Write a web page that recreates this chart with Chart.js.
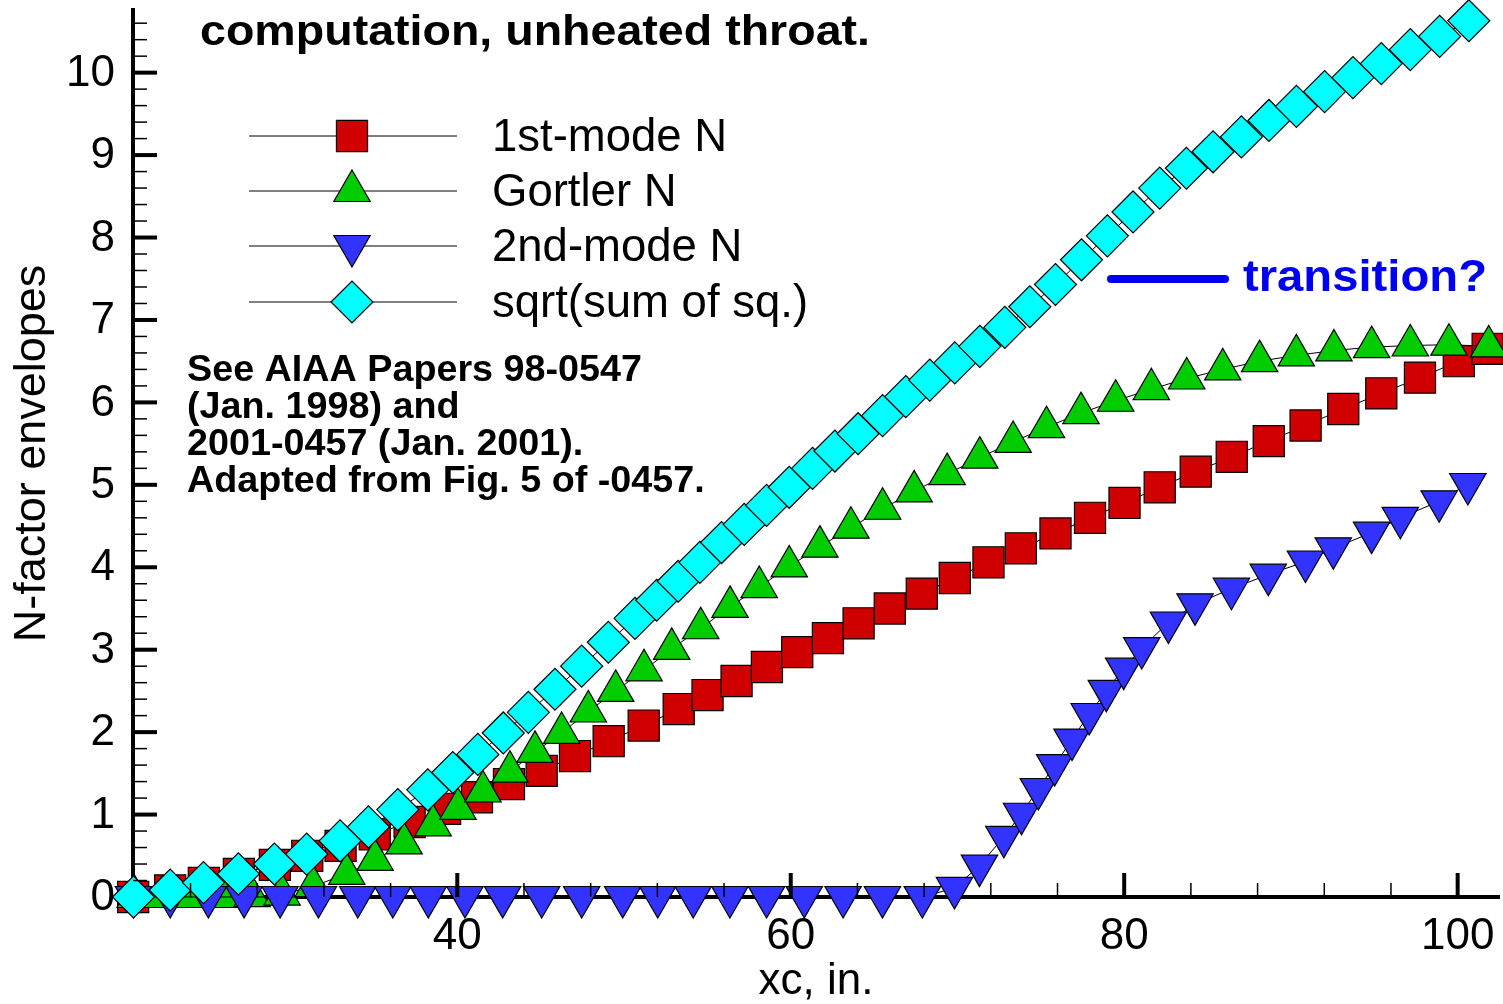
<!DOCTYPE html>
<html>
<head>
<meta charset="utf-8">
<title>N-factor envelopes</title>
<script src="https://cdn.jsdelivr.net/npm/chart.js@4.4.1/dist/chart.umd.min.js"></script>
<style>
  html, body { margin: 0; padding: 0; background: #fff; overflow: hidden; }
  #wrap { width: 1503px; height: 1004px; }
</style>
</head>
<body>
<div id="wrap"><canvas id="nfactorChart"></canvas></div>
<script>
const firstModeX = [20.56, 22.78, 24.80, 26.90, 29.06, 31.00, 33.00, 35.05, 37.14, 39.27,
    41.18, 43.10, 45.06, 47.06, 49.08, 51.18, 53.28, 55.01, 56.75, 58.57,
    60.39, 62.23, 64.07, 65.94, 67.86, 69.84, 71.86, 73.80, 75.88, 77.95,
    80.02, 82.13, 84.29, 86.45, 88.67, 90.88, 93.14, 95.42, 97.74, 100.07, 101.80];
const firstModeN = [0.00, 0.08, 0.17, 0.28, 0.39, 0.50, 0.62, 0.76, 0.91, 1.07,
    1.21, 1.37, 1.53, 1.71, 1.89, 2.08, 2.28, 2.45, 2.62, 2.79,
    2.97, 3.14, 3.32, 3.50, 3.68, 3.87, 4.06, 4.23, 4.41, 4.60,
    4.78, 4.97, 5.16, 5.34, 5.53, 5.72, 5.92, 6.11, 6.30, 6.50, 6.65];

const gortlerX = [20.68, 22.30, 23.98, 25.90, 27.69, 29.49, 31.35, 33.37, 35.07, 36.81,
    38.55, 40.04, 41.54, 43.16, 44.66, 46.26, 47.86, 49.50, 51.20, 52.86,
    54.60, 56.36, 58.11, 59.91, 61.75, 63.61, 65.51, 67.40, 69.38, 71.34,
    73.34, 75.34, 77.41, 79.49, 81.63, 83.75, 85.91, 88.12, 90.32, 92.58,
    94.84, 97.16, 99.48, 101.86];
const gortlerN = [0.00, 0.00, 0.00, 0.00, 0.01, 0.03, 0.13, 0.28, 0.45, 0.65,
    0.87, 1.07, 1.28, 1.52, 1.76, 1.99, 2.25, 2.50, 2.75, 3.01,
    3.26, 3.52, 3.76, 4.01, 4.25, 4.48, 4.71, 4.92, 5.13, 5.33,
    5.52, 5.70, 5.87, 6.02, 6.16, 6.29, 6.40, 6.50, 6.57, 6.63,
    6.67, 6.69, 6.70, 6.68];

const secondModeX = [20.58, 22.78, 25.07, 27.21, 29.37, 31.67, 34.03, 36.13, 38.26, 40.46,
    42.72, 45.06, 47.46, 49.92, 52.02, 54.15, 56.35, 58.55, 60.81, 63.14,
    65.50, 67.89, 69.82, 71.32, 72.78, 73.84, 74.85, 75.83, 76.87, 77.90,
    78.93, 79.97, 81.05, 82.65, 84.25, 86.43, 88.64, 90.87, 92.54, 94.84,
    96.56, 98.89, 100.61];
const secondModeN = [0, 0, 0, 0, 0, 0, 0, 0, 0, 0,
    0, 0, 0, 0, 0, 0, 0, 0, 0, 0,
    0, 0, 0.11, 0.38, 0.73, 1.01, 1.31, 1.60, 1.91, 2.22,
    2.50, 2.77, 3.02, 3.33, 3.55, 3.74, 3.91, 4.07, 4.23, 4.42,
    4.60, 4.80, 5.01];

const rssX = [20.58, 22.78, 24.78, 26.87, 29.03, 30.97, 32.97, 34.67, 36.43, 38.23,
    39.73, 41.23, 42.76, 44.26, 45.86, 47.46, 49.06, 50.66, 51.96, 53.25,
    54.55, 55.85, 57.21, 58.55, 59.91, 61.31, 62.65, 64.04, 65.51, 66.90,
    68.34, 69.84, 71.34, 72.84, 74.34, 75.88, 77.44, 78.99, 80.53, 82.13,
    83.73, 85.33, 87.03, 88.68, 90.33, 92.02, 93.72, 95.42, 97.16, 98.92, 100.67];
const rssN = [0.00, 0.085, 0.175, 0.28, 0.40, 0.52, 0.68, 0.85, 1.06, 1.30,
    1.51, 1.73, 1.99, 2.24, 2.52, 2.80, 3.09, 3.38, 3.60, 3.83,
    4.06, 4.30, 4.52, 4.75, 4.97, 5.20, 5.41, 5.62, 5.84, 6.07,
    6.27, 6.48, 6.68, 6.91, 7.16, 7.43, 7.73, 8.02, 8.31, 8.60,
    8.84, 9.04, 9.22, 9.42, 9.59, 9.77, 9.94, 10.11, 10.28, 10.44, 10.63];

const xTickValues = [40, 60, 80, 100];
const yTickValues = [0, 1, 2, 3, 4, 5, 6, 7, 8, 9, 10];

const seriesLabels = ['1st-mode N', 'Gortler N', '2nd-mode N', 'sqrt(sum of sq.)'];

const noteLines = ['See AIAA Papers 98-0547', '(Jan. 1998) and', '2001-0457 (Jan. 2001).', 'Adapted from Fig. 5 of -0457.'];

const FONT = '"Liberation Sans", Arial, Helvetica, sans-serif';
Chart.defaults.font.family = FONT;
Chart.defaults.color = '#000';

function pts(xs, ys) {
    return xs.map((x, i) => ({ x: x, y: ys[i] }));
}

function markerPath(ctx, style, rot, x, y, r) {
    ctx.beginPath();
    if (style === 'rect') {
        const s = r * Math.SQRT1_2;
        ctx.rect(x - s, y - s, 2 * s, 2 * s);
    } else if (style === 'rectRot') {
        ctx.moveTo(x - r, y);
        ctx.lineTo(x, y - r);
        ctx.lineTo(x + r, y);
        ctx.lineTo(x, y + r);
        ctx.closePath();
    } else {
        const d = rot === 180 ? -1 : 1;
        ctx.moveTo(x, y - d * r);
        ctx.lineTo(x + 0.866 * r, y + d * 0.5 * r);
        ctx.lineTo(x - 0.866 * r, y + d * 0.5 * r);
        ctx.closePath();
    }
}

// text squeezed / stretched horizontally by sx
function drawScaled(ctx, text, x, y, sx) {
    ctx.save();
    ctx.translate(x, y);
    ctx.scale(sx, 1);
    ctx.fillText(text, 0, 0);
    ctx.restore();
}

// tick marks point inward; labels drawn here so they don't pad the layout
const axisTicks = {
    id: 'axisTicks',
    afterDatasetsDraw(chart) {
        const ctx = chart.ctx;
        const xs = chart.scales.x, ys = chart.scales.y;
        const area = chart.chartArea;
        ctx.save();
        ctx.strokeStyle = '#000';
        for (let v = 24; v <= xs.max; v += 4) {
            const px = xs.getPixelForValue(v);
            const major = xTickValues.includes(v);
            ctx.lineWidth = major ? 4 : 1.5;
            ctx.beginPath();
            ctx.moveTo(px, area.bottom);
            ctx.lineTo(px, area.bottom - (major ? 24 : 14));
            ctx.stroke();
        }
        for (let i = 1; i * 0.2 <= ys.max; i++) {
            const py = ys.getPixelForValue(i * 0.2);
            const major = i % 5 === 0;
            ctx.lineWidth = major ? 4 : 1.5;
            ctx.beginPath();
            ctx.moveTo(area.left, py);
            ctx.lineTo(area.left + (major ? 24 : 14), py);
            ctx.stroke();
        }

        ctx.fillStyle = '#000';
        ctx.font = '44px ' + FONT;
        ctx.textBaseline = 'middle';
        ctx.textAlign = 'center';
        xTickValues.forEach(v => ctx.fillText(String(v), xs.getPixelForValue(v), area.bottom + 40));
        ctx.textAlign = 'right';
        yTickValues.forEach(v => ctx.fillText(String(v), area.left - 18, ys.getPixelForValue(v) + 1));
        ctx.restore();
    }
};

const annotations = {
    id: 'annotations',
    afterDraw(chart) {
        const ctx = chart.ctx;
        ctx.save();
        ctx.fillStyle = '#000';
        ctx.textAlign = 'left';
        ctx.textBaseline = 'alphabetic';

        const title = 'computation, unheated throat.';
        ctx.font = 'bold 42px ' + FONT;
        drawScaled(ctx, title, 200, 45, 670 / ctx.measureText(title).width);

        // legend
        const rows = [136, 191, 246, 302];
        chart.data.datasets.forEach((ds, i) => {
            const y = rows[i];
            ctx.strokeStyle = '#000';
            ctx.lineWidth = 1;
            ctx.beginPath();
            ctx.moveTo(249, y);
            ctx.lineTo(457, y);
            ctx.stroke();
            markerPath(ctx, ds.pointStyle, ds.pointRotation || 0, 352, y, ds.pointRadius);
            ctx.fillStyle = ds.pointBackgroundColor;
            ctx.fill();
            ctx.lineWidth = 1.2;
            ctx.stroke();
            ctx.fillStyle = '#000';
            ctx.font = '45.5px ' + FONT;
            ctx.fillText(seriesLabels[i], 492, y + 15);
        });

        // reference note
        ctx.font = 'bold 36px ' + FONT;
        const noteScale = 455 / ctx.measureText(noteLines[0]).width;
        noteLines.forEach((t, i) => drawScaled(ctx, t, 187, 381 + i * 37, noteScale));

        // transition marker
        ctx.strokeStyle = '#0000f0';
        ctx.lineWidth = 8;
        ctx.lineCap = 'round';
        ctx.beginPath();
        ctx.moveTo(1111, 279);
        ctx.lineTo(1225, 279);
        ctx.stroke();
        ctx.fillStyle = '#0000f0';
        ctx.font = 'bold 45px ' + FONT;
        drawScaled(ctx, 'transition?', 1243, 291, 244 / ctx.measureText('transition?').width);
        ctx.restore();
    }
};

const common = {
    showLine: true,
    borderColor: '#000',
    borderWidth: 1,
    pointBorderColor: '#000',
    pointBorderWidth: 1.2,
    tension: 0,
    clip: false
};

new Chart(document.getElementById('nfactorChart'), {
    type: 'scatter',
    data: {
        datasets: [
            Object.assign({}, common, {
                label: seriesLabels[0], data: pts(firstModeX, firstModeN),
                pointStyle: 'rect', pointRadius: 22, pointHoverRadius: 22,
                pointBackgroundColor: '#d00000', order: 4
            }),
            Object.assign({}, common, {
                label: seriesLabels[1], data: pts(gortlerX, gortlerN),
                pointStyle: 'triangle', pointRadius: 21, pointHoverRadius: 21,
                pointBackgroundColor: '#00cc00', order: 3
            }),
            Object.assign({}, common, {
                label: seriesLabels[2], data: pts(secondModeX, secondModeN),
                pointStyle: 'triangle', pointRotation: 180, pointRadius: 21, pointHoverRadius: 21,
                pointBackgroundColor: '#3333ff', order: 2
            }),
            Object.assign({}, common, {
                label: seriesLabels[3], data: pts(rssX, rssN),
                pointStyle: 'rectRot', pointRadius: 21, pointHoverRadius: 21,
                pointBackgroundColor: '#00ffff', order: 1
            })
        ]
    },
    options: {
        responsive: true,
        maintainAspectRatio: false,
        animation: false,
        layout: { autoPadding: false, padding: { left: 0, right: 4, top: 10, bottom: 0 } },
        plugins: {
            legend: { display: false },
            tooltip: { enabled: false }
        },
        scales: {
            x: {
                type: 'linear',
                min: 20.55,
                max: 102.48,
                afterBuildTicks: s => { s.ticks = xTickValues.map(v => ({ value: v })); },
                afterFit: s => { s.height = 107; },
                grid: { display: false, drawTicks: false },
                border: { display: true, color: '#000', width: 4 },
                ticks: { display: false },
                title: { display: true, text: 'xc, in.', color: '#000', font: { size: 44, lineHeight: 1 }, padding: 0 }
            },
            y: {
                type: 'linear',
                min: 0,
                max: 10.76,
                afterBuildTicks: s => { s.ticks = yTickValues.map(v => ({ value: v })); },
                afterFit: s => { s.width = 133; },
                grid: { display: false, drawTicks: false },
                border: { display: true, color: '#000', width: 4 },
                ticks: { display: false },
                title: { display: true, text: 'N-factor envelopes', color: '#000', font: { size: 45, lineHeight: 1 }, padding: { top: 10, bottom: 0 } }
            }
        }
    },
    plugins: [axisTicks, annotations]
});
</script>
</body>
</html>
